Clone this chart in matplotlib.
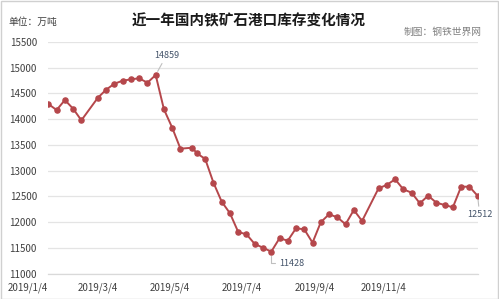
import matplotlib
matplotlib.use("Agg")
import matplotlib.pyplot as plt
import pandas as pd
from matplotlib.patches import Rectangle

plt.rcParams['font.family'] = ['Noto Sans CJK SC', 'DejaVu Sans']

# ---- data ----
dates = [
    "2019-01-04", "2019-01-11", "2019-01-18", "2019-01-25", "2019-02-01",
    "2019-02-15", "2019-02-22", "2019-03-01", "2019-03-08", "2019-03-15",
    "2019-03-22", "2019-03-29", "2019-04-05", "2019-04-12", "2019-04-19",
    "2019-04-26", "2019-05-06", "2019-05-10", "2019-05-17", "2019-05-24",
    "2019-05-31", "2019-06-07", "2019-06-14", "2019-06-21", "2019-06-28",
    "2019-07-05", "2019-07-12", "2019-07-19", "2019-07-26", "2019-08-02",
    "2019-08-09", "2019-08-16", "2019-08-23", "2019-08-30", "2019-09-06",
    "2019-09-13", "2019-09-20", "2019-09-27", "2019-10-11", "2019-10-18",
    "2019-10-25", "2019-11-01", "2019-11-08", "2019-11-15", "2019-11-22",
    "2019-11-29", "2019-12-06", "2019-12-13", "2019-12-20", "2019-12-27",
    "2020-01-03",
]
inventory = [
    14296, 14179, 14373, 14205, 13979,
    14418, 14574, 14690, 14748, 14775,
    14795, 14709, 14859, 14193, 13836,
    13428, 13447, 13338, 13228, 12767,
    12398, 12173, 11810, 11765, 11577,
    11505, 11428, 11688, 11642, 11882,
    11862, 11602, 12000, 12154, 12096,
    11960, 12237, 12024, 12659, 12724,
    12834, 12639, 12573, 12367, 12515,
    12379, 12334, 12290, 12690, 12690,
    12512,
]
y_ticks = [11000, 11500, 12000, 12500, 13000, 13500, 14000, 14500, 15000, 15500]
x_tick_dates = ["2019-01-04", "2019-03-04", "2019-05-04", "2019-07-04", "2019-09-04", "2019-11-04"]
x_tick_labels = ["2019/1/4", "2019/3/4", "2019/5/4", "2019/7/4", "2019/9/4", "2019/11/4"]
title = "近一年国内铁矿石港口库存变化情况"
unit_text = "单位：万吨"
source_text = "制图：钢铁世界网"

x = pd.to_datetime(dates)
xt = pd.to_datetime(x_tick_dates)

W, H = 499, 299
fig = plt.figure(figsize=(W / 100, H / 100), dpi=100)
fig.patch.set_facecolor("white")

ax = fig.add_axes([48 / W, 1 - 273.7 / H, (478 - 48) / W, (273.7 - 42) / H])
ax.set_facecolor("white")

line_color = "#B5474B"
ax.plot(x, inventory, color=line_color, lw=1.4, marker="o", ms=3.7,
        markerfacecolor=line_color, markeredgecolor=line_color, zorder=3)

ax.set_ylim(11000, 15500)
ax.set_xlim(x[0] - pd.Timedelta(days=0.3), x[-1] + pd.Timedelta(days=0.3))
ax.set_yticks(y_ticks)
ax.set_yticklabels([str(v) for v in y_ticks], fontsize=7, color="#404040")
ax.set_xticks(xt)
ax.set_xticklabels(x_tick_labels, fontsize=7, color="#404040", ha="right")
ax.tick_params(axis="both", length=0)
ax.tick_params(axis="y", pad=8)
ax.tick_params(axis="x", pad=6)
ax.grid(axis="y", color="#E4E4E4", lw=0.9)
ax.set_axisbelow(True)
for s in ["top", "right", "left"]:
    ax.spines[s].set_visible(False)
ax.spines["bottom"].set_color("#D9D9D9")
ax.spines["bottom"].set_linewidth(0.9)

# annotations
i_max = inventory.index(max(inventory))
i_min = inventory.index(min(inventory))
i_last = len(inventory) - 1
ann_color = "#44546A"
lead = dict(arrowstyle="-", color="#BFBFBF", lw=0.8, shrinkA=1, shrinkB=3)
ax.annotate(str(inventory[i_max]), xy=(x[i_max], inventory[i_max]),
            xytext=(11, 20), textcoords="offset pixels", ha="center", va="center",
            fontsize=6.5, color=ann_color, arrowprops=lead)
ax.annotate(str(inventory[i_min]), xy=(x[i_min], inventory[i_min]),
            xytext=(8, -11.5), textcoords="offset pixels", ha="left", va="center",
            fontsize=6.5, color=ann_color,
            arrowprops=dict(arrowstyle="-", color="#BFBFBF", lw=0.8, shrinkA=1, shrinkB=3,
                            connectionstyle="angle,angleA=0,angleB=90,rad=0"))
ax.annotate(str(inventory[i_last]), xy=(x[i_last], inventory[i_last]),
            xytext=(2, -19), textcoords="offset pixels", ha="center", va="center",
            fontsize=6.5, color=ann_color, arrowprops=lead)

fig.text(249 / W, 1 - 20 / H, title, ha="center", va="center",
         fontsize=10.5, fontweight="bold", color="#1a1a1a")
fig.text(8 / W, 1 - 22 / H, unit_text, ha="left", va="center",
         fontsize=7, color="#404040")
fig.text(482 / W, 1 - 32 / H, source_text, ha="right", va="center",
         fontsize=7, color="#7F7F7F")

fig.patches.append(Rectangle((0.5 / W, 0.5 / H), 1 - 1.5 / W, 1 - 1.5 / H,
                             transform=fig.transFigure, fill=False,
                             edgecolor="#D0D0D0", lw=1.0))

fig.savefig("out.png", dpi=100)
